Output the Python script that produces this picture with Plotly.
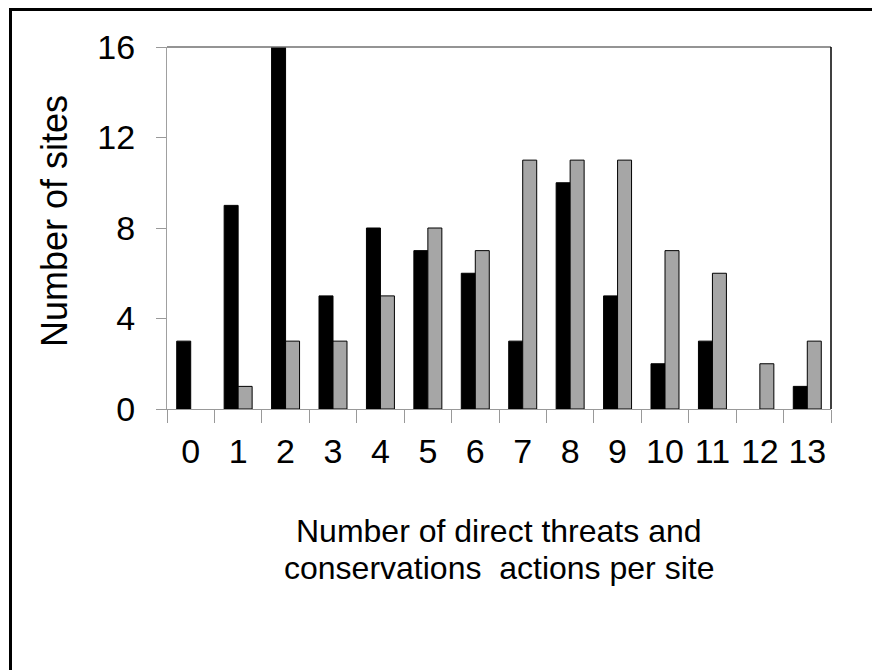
import plotly.graph_objects as go

categories = [str(i) for i in range(14)]
threats = [3, 9, 16, 5, 8, 7, 6, 3, 10, 5, 2, 3, 0, 1]
actions = [0, 1, 3, 3, 5, 8, 7, 11, 11, 11, 7, 6, 2, 3]
y_ticks = [0, 4, 8, 12, 16]
x_title_lines = ["Number of direct threats and", "conservations  actions per site"]
y_title = "Number of sites"

OFF = 8  # page body margin
W, H = 880 - OFF, 670 - OFF
L, T = 167 - OFF, 47 - OFF
R = W - (831 - OFF)
B = H - (409 - OFF)
PW, PH = W - L - R, H - T - B

def px_x(p):
    return (p - OFF - L) / PW

def px_y(p):
    return (H - B - (p - OFF)) / PH

FONT = "Liberation Sans, Arial, sans-serif"

def nz(vals):
    return [v if v != 0 else None for v in vals]

fig = go.Figure()
fig.add_trace(go.Bar(x=categories, y=nz(threats), marker=dict(color="#000000", line=dict(color="#000000", width=1)), name="threats"))
fig.add_trace(go.Bar(x=categories, y=nz(actions), marker=dict(color="#a6a6a6", line=dict(color="#000000", width=1)), name="actions"))

fig.update_layout(
    width=W, height=H,
    margin=dict(l=L, r=R, t=T, b=B, pad=0),
    paper_bgcolor="white", plot_bgcolor="white",
    barmode="group", bargap=0.41, bargroupgap=0,
    showlegend=False,
    font=dict(family=FONT, color="black"),
    xaxis=dict(
        type="category", categoryorder="array", categoryarray=categories,
        tickson="boundaries", ticks="outside", ticklen=13, tickcolor="#999999", tickwidth=1,
        showline=True, linecolor="#999999", linewidth=1, showgrid=False, zeroline=False,
        tickfont=dict(size=34, family=FONT, color="black"), ticklabelstandoff=12,
    ),
    yaxis=dict(
        range=[0, 16], tickvals=y_ticks, ticks="outside", ticklen=10, tickcolor="#999999", tickwidth=1,
        showline=True, linecolor="#a0a0a0", linewidth=1, showgrid=False, zeroline=False,
        tickfont=dict(size=34, family=FONT, color="black"), ticklabelstandoff=14,
    ),
    shapes=[
        dict(type="line", xref="paper", yref="paper", x0=0, x1=1, y0=1, y1=1, line=dict(color="#707070", width=1.5)),
        dict(type="line", xref="paper", yref="paper", x0=1, x1=1, y0=0, y1=1, line=dict(color="#000000", width=1.5)),
        dict(type="rect", xref="paper", yref="paper", x0=px_x(10.5), x1=px_x(900), y0=px_y(9.5), y1=px_y(690),
             line=dict(color="#000000", width=3)),
    ],
    annotations=[
        dict(text=x_title_lines[0], xref="paper", yref="paper", x=px_x(499), y=px_y(531), xanchor="center", yanchor="middle",
             showarrow=False, font=dict(size=32, family=FONT, color="black")),
        dict(text=x_title_lines[1], xref="paper", yref="paper", x=px_x(499), y=px_y(568), xanchor="center", yanchor="middle",
             showarrow=False, font=dict(size=32, family=FONT, color="black")),
        dict(text=y_title, xref="paper", yref="paper", x=px_x(54), y=px_y(221), xanchor="center", yanchor="middle",
             textangle=-90, showarrow=False, font=dict(size=36, family=FONT, color="black")),
    ],
)

fig.write_html("out.html")
